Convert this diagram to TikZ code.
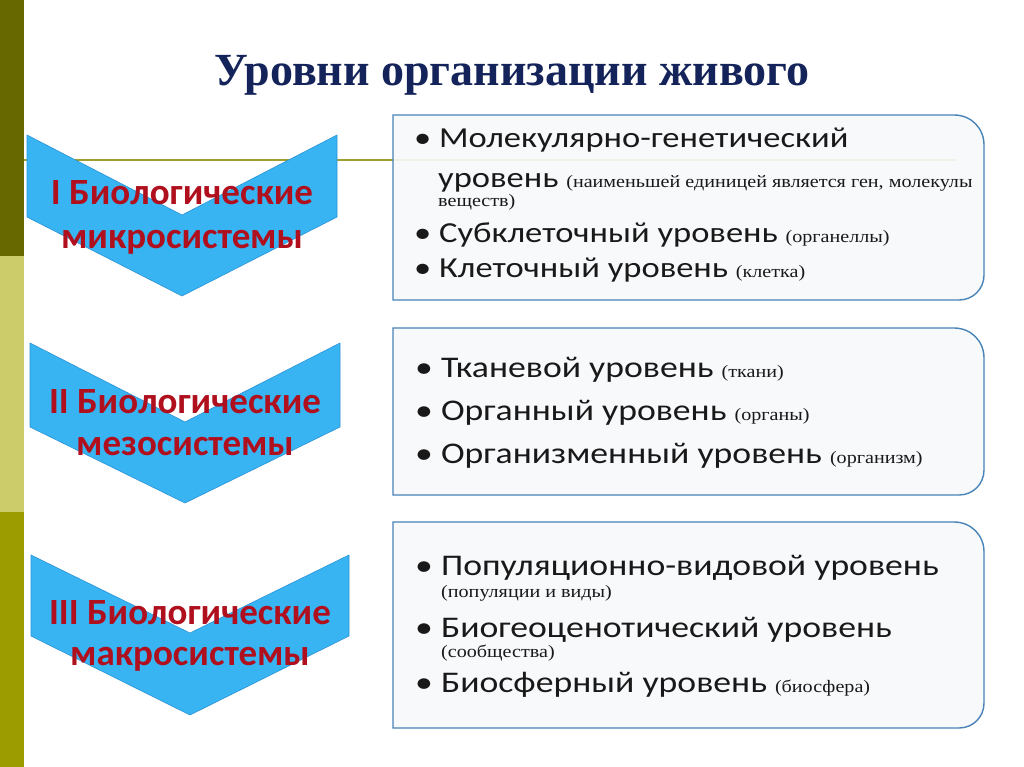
\documentclass[tikz,border=0pt]{standalone}
\usepackage{fontspec}
\setmainfont{Liberation Serif}
\newfontfamily\chevfont{Carlito}
\newfontfamily\calibri[FakeStretch=1.19]{Carlito}
\newfontfamily\timeswide[FakeStretch=1.15]{Liberation Serif}
\usetikzlibrary{positioning}

\definecolor{stripeA}{HTML}{686800}
\definecolor{stripeB}{HTML}{CCCC6A}
\definecolor{stripeC}{HTML}{9C9C00}
\definecolor{ruleline}{HTML}{A0A030}
\definecolor{chevfill}{HTML}{38B4F2}
\definecolor{chevline}{HTML}{2C92D6}
\definecolor{chevtext}{HTML}{B0101E}
\definecolor{boxline}{HTML}{4884B8}
\definecolor{boxfill}{HTML}{F8F9FB}
\definecolor{titleblue}{HTML}{14245A}

\newcommand{\lvlsmall}{\timeswide\fontsize{17.5}{19}\selectfont}

\tikzset{
  chevtxt/.style={anchor=base, inner sep=0pt, text=chevtext,
    font=\chevfont\bfseries\fontsize{37}{40}\selectfont},
  item/.style={anchor=base west, inner sep=0pt, text=black!90,
    font=\calibri\fontsize{30}{32}\selectfont},
  itemone/.style={item, font=\calibri\fontsize{29}{31}\selectfont},
  levelbox/.style={draw=boxline, line width=1.4pt, fill=boxfill, fill opacity=0.9},
}

\begin{document}
\begin{tikzpicture}[x=1pt,y=-1pt]
    \useasboundingbox (0,0) rectangle (1024,767);
    \fill[white] (0,0) rectangle (1024,767);

    % left stripe
    \fill[stripeA] (0,0) rectangle (24,256);
    \fill[stripeB] (0,256) rectangle (24,512);
    \fill[stripeC] (0,512) rectangle (24,767);
    \draw[ruleline, line width=1.2pt] (24,160) -- (957,160);

    \node[anchor=base, inner sep=0pt, text=titleblue,
          font=\bfseries\fontsize{46}{48}\selectfont] (title) at (512,86)
          {Уровни организации живого};

    % chevrons
    \foreach \lx/\rx/\cx/\ty/\ny/\by/\tip/\bA/\bB/\first/\second/\k in
        {27/337/182/135/215/217/296/205/248/I Биологические/микросистемы/1,
         30/340/185/343/422/427/503/413/455/II Биологические/мезосистемы/2,
         31/349/190/555/633/636/715/624/665/III Биологические/макросистемы/3}
    {
        \filldraw[fill=chevfill, draw=chevline, line width=0.6pt]
            (\lx,\ty) -- (\cx,\ny) -- (\rx,\ty) -- (\rx,\by)
            -- (\cx,\tip) -- (\lx,\by) -- cycle;
        \node[chevtxt] (chevtop\k) at (\cx,\bA) {\first};
        \node[chevtxt] (chevbot\k) at (\cx,\bB) {\second};
    }

    % boxes
    \foreach \t/\b in {115/300, 328/495, 522/728}
    {
        \draw[levelbox] (393,\t) -- (954,\t)
            .. controls (971,\t) and (984,\t+13) .. (984,\t+30)
            -- (984,\b-25)
            .. controls (984,\b-11) and (973,\b) .. (959,\b)
            -- (393,\b) -- cycle;
    }

    \node[itemone] (mol) at (414,148) {• Молекулярно-генетический};
    \node[itemone] (molb) at (438,188) {уровень {\lvlsmall (наименьшей единицей является  ген, молекулы}};
    \node[itemone] (molc) at (438,207) {\lvlsmall веществ)};
    \node[itemone] (subcell) at (414,243) {• Субклеточный уровень {\lvlsmall (органеллы)}};
    \node[itemone] (cell) at (414,277) {• Клеточный уровень {\lvlsmall (клетка)}};

    \node[item] (tissue) at (415,377) {• Тканевой уровень {\lvlsmall (ткани)}};
    \node[item] (organ) at (415,420) {• Органный уровень {\lvlsmall (органы)}};
    \node[item] (organism) at (415,463) {• Организменный уровень {\lvlsmall (организм)}};

    \node[item] (popul) at (415,575) {• Популяционно-видовой уровень};
    \node[item] (populb) at (441,597) {\lvlsmall (популяции и виды)};
    \node[item] (biogeo) at (415,637) {• Биогеоценотический уровень};
    \node[item] (biogeob) at (441,657) {\lvlsmall (сообщества)};
    \node[item] (biosph) at (415,692) {• Биосферный уровень {\lvlsmall (биосфера)}};
\end{tikzpicture}
\end{document}
